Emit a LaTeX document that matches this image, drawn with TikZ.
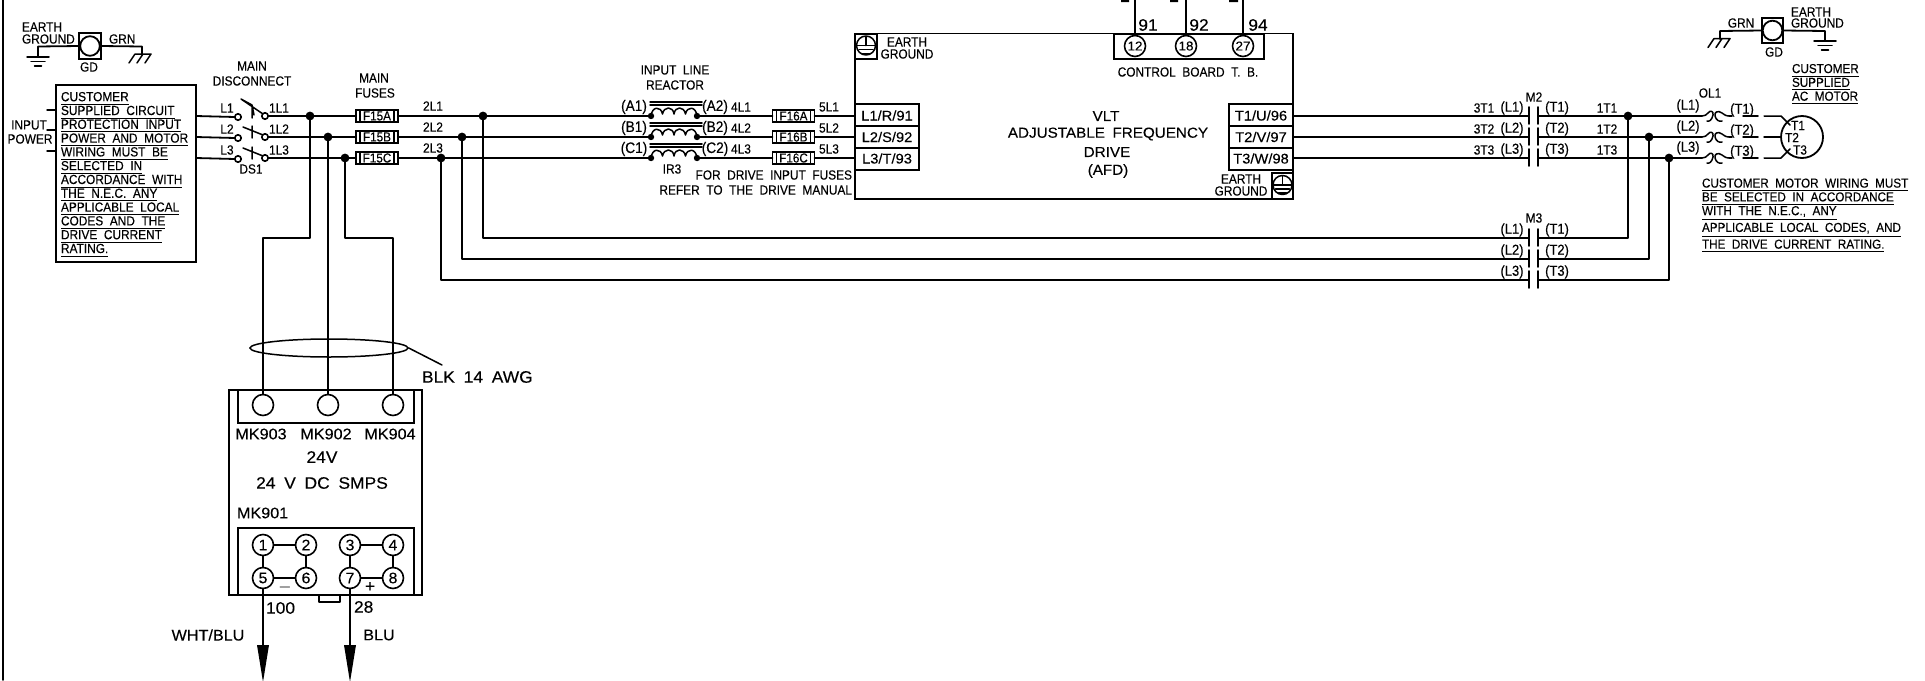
\documentclass[tikz,border=0pt]{standalone}
\usepackage{fontspec}
\usetikzlibrary{calc,shapes.geometric}
\newfontfamily\cad[FakeStretch=0.9,WordSpace=2,FakeBold=0.3]{Liberation Sans}
\newfontfamily\cadw[FakeStretch=1.05,WordSpace=1.8,FakeBold=0.2]{Liberation Sans}
\newcounter{txt}
\tikzset{
  wire/.style={line width=0.9pt,line cap=round,line join=round},
  thin wire/.style={line width=0.75pt,line cap=round,line join=round},
  lab/.style={inner sep=0pt,outer sep=0pt,font=\cad\fontsize{6.6}{7}\selectfont},
  paren lab/.style={inner sep=0pt,outer sep=0pt,font=\cad\fontsize{7.2}{8}\selectfont},
  paren wide/.style={inner sep=0pt,outer sep=0pt,font=\cad\fontsize{7.6}{8}\selectfont},
  big/.style={inner sep=0pt,outer sep=0pt,font=\cadw\fontsize{7.7}{8}\selectfont},
  huge lab/.style={inner sep=0pt,outer sep=0pt,font=\cadw\fontsize{8.3}{9}\selectfont},
  drive lab/.style={inner sep=0pt,outer sep=0pt,font=\cadw\fontsize{7.25}{8}\selectfont},
  port lab/.style={inner sep=0pt,outer sep=0pt,font=\cadw\fontsize{7}{8}\selectfont},
  note/.style={inner sep=0pt,outer sep=0pt,align=left,anchor=north west,font=\cad\fontsize{6.6}{6.9}\selectfont},
  note small/.style={note,font=\cad\fontsize{6.5}{6.9}\selectfont},
  fusebox/.style={draw,line width=0.9pt,fill=white,minimum width=21pt,minimum height=6pt,inner sep=0pt,outer sep=0pt},
  fuse lab/.style={inner sep=0pt,font=\cad\fontsize{6.5}{7}\selectfont},
  termbox/.style={draw,line width=0.9pt,minimum width=32pt,minimum height=11pt,inner sep=0pt,outer sep=0pt},
  term/.style={draw,circle,line width=0.8pt,minimum size=10.5pt,inner sep=0pt,outer sep=0pt,font=\cadw\fontsize{7.6}{8}\selectfont},
  tb term/.style={term,font=\cadw\fontsize{6.4}{7}\selectfont},
  openc/.style={draw,circle,line width=0.8pt,fill=white,minimum size=3.2pt,inner sep=0pt,outer sep=0pt},
  jdot/.style={fill,circle,minimum size=4.4pt,inner sep=0pt,outer sep=0pt},
  rdot/.style={fill,circle,minimum size=3.2pt,inner sep=0pt,outer sep=0pt},
  gdbox/.style={draw,line width=0.9pt,minimum width=10.8pt,minimum height=12.8pt,inner sep=0pt,outer sep=0pt},
  gdc/.style={draw,circle,line width=0.9pt,minimum size=9.8pt,inner sep=0pt,outer sep=0pt},
  blockbox/.style={draw,line width=0.9pt,inner sep=0pt,outer sep=0pt},
}
\newcommand\lab[4][lab]{\stepcounter{txt}\node[#1] (t\thetxt) at (#2,#3) {#4};}
\newcommand\labl[4][lab]{\stepcounter{txt}\node[#1,anchor=west] (t\thetxt) at (#2,#3) {#4};}
\newcommand\labr[4][lab]{\stepcounter{txt}\node[#1,anchor=east] (t\thetxt) at (#2,#3) {#4};}
% protective-earth symbol in a box; #1 name, #2 x, #3 y centre
\newcommand\pebox[3]{%
  \node[gdbox] (#1) at (#2,#3) {};
  \draw[thin wire] (#2,#3-1) circle [radius=9.5];
  \draw[thin wire] (#2-9.5,#3-1) -- (#2+9.5,#3-1) (#2,#3-10) -- (#2,#3-1);
  \draw[thin wire] (#2-7,#3+3) -- (#2+7,#3+3) (#2-4,#3+7) -- (#2+4,#3+7);
}
\newcommand\earthsym[2]{%
  \draw[thin wire] (#1-11,#2) -- (#1+11,#2) (#1-7,#2+4.5) -- (#1+7,#2+4.5) (#1-3.5,#2+9) -- (#1+3.5,#2+9);
}
\newcommand\chassis[2]{%
  \draw[thin wire] (#1-8,#2) -- (#1+8,#2) (#1-8,#2) -- (#1-14,#2+9) (#1,#2) -- (#1-6,#2+9) (#1+8,#2) -- (#1+2,#2+9);
}
\newcommand\coilsym[2]{%
  \draw[thin wire] (#1,#2) .. controls (#1+3,#2) and (#1+4,#2-1) .. (#1+6,#2-3) .. controls (#1+8,#2-6) and (#1+12,#2-5) .. (#1+11,#2-1) .. controls (#1+10,#2+4) and (#1+7,#2+6) .. (#1+5,#2+5);
  \draw[thin wire] (#1+27,#2) .. controls (#1+23,#2) and (#1+22,#2-2) .. (#1+20,#2-3) .. controls (#1+16,#2-6) and (#1+12,#2-4) .. (#1+13,#2) .. controls (#1+14,#2+4) and (#1+17,#2+6) .. (#1+20,#2+5);
}
\newcommand\reactor[2]{%
  \draw[thin wire] (#1-1,#2-14) -- (#1+51,#2-14) (#1-1,#2-11) -- (#1+51,#2-11);
  \draw[thin wire] (#1,#2) .. controls (#1+1,#2-10) and (#1+10,#2-10) .. (#1+11.5,#2-2)
     .. controls (#1+13,#2-10) and (#1+22,#2-10) .. (#1+23,#2-2)
     .. controls (#1+24,#2-10) and (#1+33,#2-10) .. (#1+34.5,#2-2)
     .. controls (#1+36,#2-10) and (#1+45,#2-10) .. (#1+46,#2);
}
\begin{document}
\begin{tikzpicture}[x=0.5pt,y=-0.5pt]
\useasboundingbox (0,0) rectangle (1925,680);
\begin{scope}
\clip (0,0) rectangle (1925,680);
\coordinate (frameT) at (3,0); \coordinate (frameB) at (3,680);
\draw[wire] (frameT) -- (frameB);

% ---- earth top left
\node[gdbox] (gdL) at (90,46) {};
\node[gdc] (gdLc) at (90,46) {};
\coordinate (gndL) at (38,46.5); \coordinate (gndLb) at (38,57);
\coordinate (chL) at (142,46.5); \coordinate (chLb) at (142,55);
\draw[wire] (gdL.west) -- (gndL) -- (gndLb);
\draw[wire] (gdL.east) -- (chL) -- (chLb);
\earthsym{38}{57}
\chassis{143}{54}
\labl{22}{27}{EARTH} \labl{22}{39}{GROUND} \labl{109}{39}{GRN} \lab{89}{67}{GD}

% ---- left note box
\node[blockbox,minimum width=70pt,minimum height=88.5pt] (cust) at (126,173.5) {};
\node[note] (custtxt) at (61,92) {\underline{CUSTOMER}\\\underline{SUPPLIED CIRCUIT}\\\underline{PROTECTION INPUT}\\\underline{POWER AND MOTOR}\\\underline{WIRING MUST BE}\\\underline{SELECTED IN}\\\underline{ACCORDANCE WITH}\\\underline{THE N.E.C. ANY}\\\underline{APPLICABLE LOCAL}\\\underline{CODES AND THE}\\\underline{DRIVE CURRENT}\\\underline{RATING.}};
\lab{29}{125}{INPUT} \lab{30}{139}{POWER}
\coordinate (ip1) at (47,110); \coordinate (ip1e) at (56,110);
\coordinate (ip2) at (47,130); \coordinate (ip2e) at (56,130);
\coordinate (ip3) at (47,151); \coordinate (ip3e) at (56,151);
\draw[thin wire] (ip1) -- (ip1e) (ip2) -- (ip2e) (ip3) -- (ip3e);

% ---- disconnect
\lab{252}{66}{MAIN} \lab{252}{81}{DISCONNECT} \lab{251}{169}{DS1}
\foreach \n/\y in {1/116,2/137,3/158}{
  \coordinate (w\n) at (196,\y);
  \node[openc] (sa\n) at (238,\y+1) {};
  \node[openc] (sb\n) at (265,\y) {};
  \node[fusebox] (f\n) at (377,\y) {};
  \node[fusebox] (g\n) at (793.5,\y) {};
  \node[termbox] (in\n) at (887,{115+22*(\n-1)}) {};
  \node[termbox] (out\n) at (1261,{115+22*(\n-1)}) {};
  \coordinate (ma\n) at (1529,\y); \coordinate (mb\n) at (1538,\y);
  \coordinate (ol\n) at (1702,\y); \coordinate (ole\n) at (1758,\y);
  \coordinate (ols\n) at (1729,\y); \coordinate (olt\n) at (1732,\y); \coordinate (olu\n) at (1743,\y);
  \node[rdot] (ra\n) at (651,\y) {};
  \node[rdot] (rb\n) at (697,\y) {};
  \reactor{651}{\y}
  \coilsym{1702}{\y}
  \draw[wire] (w\n) -- (sa\n.west);
  \draw[wire] (sb\n.east) -- (f\n.west);
  \draw[wire] (f\n.east) -- (ra\n);
  \draw[wire] (rb\n) -- (g\n.west);
  \draw[wire] (g\n.east) -- (855,\y);
  \draw[wire] (1293,\y) -- (ma\n);
  \draw[wire] (mb\n) -- (ol\n);
  \draw[thin wire] (ols\n) -- (olt\n) (olu\n) -- (ole\n);
  \draw[wire] (1529,\y-9) -- (1529,\y+8);
  \draw[wire] (1538,\y-9) -- (1538,\y+8);
}
% blades
\draw[thin wire] (241,99) -- (252,105) -- (254,115) (241,99) -- (263,114) (252,106) -- (252,118);
\draw[thin wire] (243,127) -- (263,135) (252,126) -- (252,138);
\draw[thin wire] (243,148) -- (263,156) (252,147) -- (252,159);
\foreach \n/\y/\m in {1/108/A,2/129/B,3/150/C}{
  \lab{227}{\y}{L\n} \lab{279}{\y}{1L\n}
  \lab{433}{\y-2}{2L\n}
  \lab[paren wide]{634}{\y-1}{(\m1)} \lab[paren wide]{715}{\y-1}{(\m2)} \lab{741}{\y-1}{4L\n} \lab{829}{\y-1}{5L\n}
  \lab{1484}{\y}{3T\n} \lab[paren lab]{1512}{\y}{(L\n)} \lab[paren lab]{1557}{\y}{(T\n)} \lab{1607}{\y}{1T\n}
  \lab[paren lab]{1688}{\y-2}{(L\n)} \lab[paren lab]{1742}{\y+2}{(T\n)}
  \lab[paren lab]{1512}{\y+122}{(L\n)} \lab[paren lab]{1557}{\y+122}{(T\n)}
}
% fuse labels
\foreach \n/\l in {1/A,2/B,3/C}{
  \node[fuse lab] (fl\n) at (f\n) {F15\l};
  \node[fuse lab] (gl\n) at (g\n) {F16\l};
  \draw[thin wire] ($(f\n.west)+(4,-6)$) -- ($(f\n.west)+(4,6)$) ($(f\n.east)+(-4,-6)$) -- ($(f\n.east)+(-4,6)$);
  \draw[thin wire] ($(g\n.west)+(4,-6)$) -- ($(g\n.west)+(4,6)$) ($(g\n.east)+(-4,-6)$) -- ($(g\n.east)+(-4,6)$);
}
\lab{374}{78}{MAIN} \lab{375}{93}{FUSES}

% ---- junctions and branch to SMPS
\node[jdot] (j1) at (310,116) {};
\node[jdot] (j2) at (328,137) {};
\node[jdot] (j3) at (345,158) {};
\node[term] (mk903) at (263,405) {};
\node[term] (mk902) at (328,405) {};
\node[term] (mk904) at (393,405) {};
\coordinate (b1) at (310,238); \coordinate (b1a) at (263,238);
\coordinate (b3) at (345,238); \coordinate (b3a) at (393,238);
\draw[wire] (j1) -- (b1) -- (b1a) -- (mk903.north);
\draw[wire] (j2) -- (mk902.north);
\draw[wire] (j3) -- (b3) -- (b3a) -- (mk904.north);
\node[draw,ellipse,line width=0.75pt,minimum width=79pt,minimum height=9pt,inner sep=0pt] (cable) at (329,348) {};
\coordinate (cableEnd) at (442,365);
\draw[thin wire] (cable.east) -- (cableEnd);
\labl[huge lab]{422}{377}{BLK 14 AWG}

% ---- SMPS
\node[blockbox,minimum width=96.5pt,minimum height=102.5pt] (smps) at (325.5,492.5) {};
\node[blockbox,minimum width=88pt,minimum height=16.5pt] (smpsA) at (326,406.5) {};
\node[blockbox,minimum width=88pt,minimum height=33.5pt] (smpsB) at (326,561.7) {};
\lab[big]{261}{434}{MK903} \lab[big]{326}{434}{MK902} \lab[big]{390}{434}{MK904}
\lab[huge lab]{322}{457}{24V} \lab[huge lab]{322}{483}{24 V DC SMPS} \labl[big]{237}{513}{MK901}
\foreach \n/\x/\y in {1/263/545,2/306/545,3/350/545,4/393/545,5/263/578,6/306/578,7/350/578,8/393/578}{
  \node[term] (p\n) at (\x,\y) {\n};
}
\foreach \a/\b in {1/2,1/5,2/6,5/6,3/4,3/7,4/8,7/8}{ \draw[thin wire] (p\a) -- (p\b); }
\lab[huge lab]{285}{587}{$-$} \lab[huge lab]{370}{587}{+}
\coordinate (nt1) at (319,595); \coordinate (nt2) at (319,602); \coordinate (nt3) at (340,602); \coordinate (nt4) at (340,595);
\draw[thin wire] (nt1) -- (nt2) -- (nt3) -- (nt4);
\coordinate (ar1) at (263,645); \coordinate (ar2) at (350,645);
\coordinate (art1) at (263,682); \coordinate (art2) at (350,682);
\draw[wire] (p5.south) -- (ar1);
\draw[wire] (p7.south) -- (ar2);
\fill (257,645) -- (269,645) -- (art1) -- cycle;
\fill (344,645) -- (356,645) -- (art2) -- cycle;
\labl[huge lab]{266}{608}{100} \labl[huge lab]{354}{607}{28}
\lab[big]{208}{635}{WHT/BLU} \lab[big]{379}{635}{BLU}

% ---- reactor / note labels
\lab{675}{70}{INPUT LINE} \lab{675}{85}{REACTOR} \lab{672}{169}{IR3}
\labr{852}{175}{FOR DRIVE INPUT FUSES} \labr{852}{190}{REFER TO THE DRIVE MANUAL}

% ---- drive
\node[blockbox,minimum width=219pt,minimum height=82.75pt] (afd) at (1074,116.25) {};
\node[port lab] (inl1) at (887,115.5) {L1/R/91};
\node[port lab] (inl2) at (887,137) {L2/S/92};
\node[port lab] (inl3) at (887,158.5) {L3/T/93};
\node[port lab] (outl1) at (1261,115.5) {T1/U/96};
\node[port lab] (outl2) at (1261,137) {T2/V/97};
\node[port lab] (outl3) at (1261,158.5) {T3/W/98};
\pebox{peL}{866}{46.5}
\pebox{peR}{1282.5}{186}
\lab{907}{42}{EARTH} \lab{907}{54}{GROUND}
\lab{1241}{179}{EARTH} \lab{1241}{191}{GROUND}
\node[blockbox,minimum width=75pt,minimum height=12.75pt] (tb) at (1189,46.4) {};
\node[tb term] (c12) at (1135,46) {12};
\node[tb term] (c18) at (1186,46) {18};
\node[tb term] (c27) at (1243,46) {27};
\coordinate (top12) at (1135,0); \coordinate (top18) at (1186,0); \coordinate (top27) at (1243,0);
\draw[thin wire] (top12) -- (c12.north) (top18) -- (c18.north) (top27) -- (c27.north);
\fill (1121,0) rectangle (1129,2) (1170,0) rectangle (1178,2) (1229,0) rectangle (1238,2);
\lab[huge lab]{1148}{25}{91} \lab[huge lab]{1199}{25}{92} \lab[huge lab]{1258}{25}{94}
\lab{1188}{72}{CONTROL BOARD T. B.}
\lab[drive lab]{1106}{116}{VLT} \lab[drive lab]{1108}{134}{ADJUSTABLE FREQUENCY} \lab[drive lab]{1107}{152}{DRIVE} \lab[drive lab]{1108}{171}{(AFD)}

% ---- M3 and bypass
\node[jdot] (d1) at (483,116) {};
\node[jdot] (d2) at (462,137) {};
\node[jdot] (d3) at (441,158) {};
\node[jdot] (e1) at (1628,116) {};
\node[jdot] (e2) at (1649,137) {};
\node[jdot] (e3) at (1669,158) {};
\foreach \n/\y in {1/238,2/259,3/280}{
  \coordinate (na\n) at (1529,\y); \coordinate (nb\n) at (1538,\y);
  \coordinate (da\n) at (d\n |- na\n); \coordinate (ea\n) at (e\n |- na\n);
  \draw[wire] (d\n) -- (da\n) -- (na\n);
  \draw[wire] (e\n) -- (ea\n) -- (nb\n);
  \draw[wire] (1529,\y-9) -- (1529,\y+8);
  \draw[wire] (1538,\y-9) -- (1538,\y+8);
}
\lab{1534}{97}{M2} \lab{1534}{218}{M3} \lab{1710}{93}{OL1}

% ---- motor
\node[draw,circle,line width=0.9pt,minimum size=21pt,inner sep=0pt,outer sep=0pt] (motor) at (1802,137) {};
\coordinate (m1a) at (1764,116); \coordinate (m1b) at (1781,116); \coordinate (m1c) at (1790,125);
\coordinate (m2a) at (1764,137);
\coordinate (m3a) at (1764,158); \coordinate (m3b) at (1781,158); \coordinate (m3c) at (1790,149);
\draw[thin wire] (m1a) -- (m1b) -- (m1c);
\draw[thin wire] (m2a) -- (motor.west);
\draw[thin wire] (m3a) -- (m3b) -- (m3c);
\lab{1798}{125.5}{T1} \lab{1792}{137.5}{T2} \lab{1800}{150}{T3}

% ---- earth top right
\node[gdbox] (gdR) at (1772.5,30.5) {};
\node[gdc] (gdRc) at (1772.5,30.5) {};
\coordinate (chR) at (1720,31); \coordinate (chRb) at (1720,39);
\coordinate (gndR) at (1825,31); \coordinate (gndRb) at (1825,41);
\draw[wire] (gdR.west) -- (chR) -- (chRb);
\draw[wire] (gdR.east) -- (gndR) -- (gndRb);
\chassis{1722}{38.5}
\earthsym{1825}{41}
\lab{1741}{23}{GRN} \labl{1791}{12}{EARTH} \labl{1791}{23}{GROUND} \lab{1774}{52}{GD}
\node[note small] (custm) at (1792,64) {\underline{CUSTOMER}\\\underline{SUPPLIED}\\\underline{AC MOTOR}};
\node[note small] (motnote) at (1702,178.5) {\underline{CUSTOMER MOTOR WIRING MUST}\\\underline{BE SELECTED IN ACCORDANCE}\\\underline{WITH THE N.E.C., ANY}\\\underline{APPLICABLE LOCAL CODES, AND}\\\underline{THE DRIVE CURRENT RATING.}};
\end{scope}
\end{tikzpicture}
\end{document}
